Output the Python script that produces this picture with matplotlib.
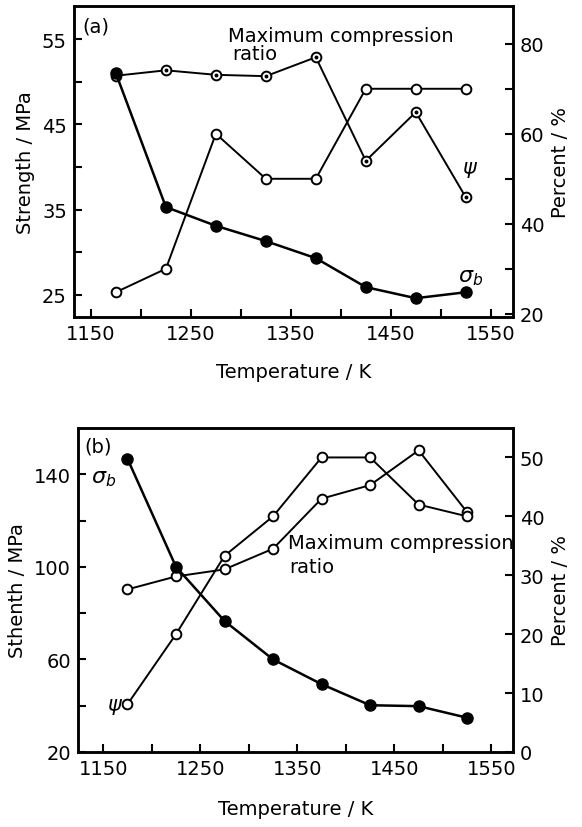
import matplotlib
matplotlib.use("Agg")
import matplotlib.pyplot as plt
import numpy as np

matplotlib.rc('font', family='DejaVu Sans', size=14)

temps = [1175, 1225, 1275, 1325, 1375, 1425, 1475, 1525]

# panel (a)
sigma_a = [51.0, 35.3, 33.1, 31.3, 29.3, 25.9, 24.6, 25.3]
ratio_a = [72.9, 74.1, 73.1, 72.8, 77.0, 54.0, 64.8, 45.9]
psi_a = [24.8, 30.0, 60.0, 50.0, 50.0, 70.0, 70.0, 70.0]

# panel (b)
sigma_b = [146.7, 100.0, 76.6, 60.0, 49.3, 40.2, 39.8, 34.8]
ratio_b = [27.6, 29.8, 31.0, 34.5, 43.0, 45.3, 51.2, 40.7]
psi_b = [8.1, 20.0, 33.3, 40.0, 50.0, 50.0, 42.0, 40.0]

x_ticks = [1150, 1250, 1350, 1450, 1550]
x_minor = [1200, 1300, 1400, 1500]

LW = 1.4
MS = 7
FS = 14


def style_axis(ax):
    for sp in ax.spines.values():
        sp.set_linewidth(1.8)
    ax.tick_params(which='both', direction='in', width=1.5, length=6,
                   labelsize=FS, pad=5)


def open_line(ax, x, y, dotted=False):
    ax.plot(x, y, '-', color='black', lw=LW, marker='o', ms=MS,
            mfc='white', mec='black', mew=1.4)
    if dotted:
        ax.plot(x, y, ls='none', marker='o', ms=1.8, color='black')


def panel(ax, sigma, ratio, psi, dotted, xlim, ylim, ylim2, xpad):
    ax2 = ax.twinx()
    open_line(ax2, temps, ratio, dotted)
    open_line(ax2, temps, psi)
    ax.plot(temps, sigma, '-', color='black', lw=1.8, marker='o', ms=MS + 1,
            mfc='black', mec='black')
    # keep the filled sigma_b points above the open ones
    ax.set_zorder(ax2.get_zorder() + 1)
    ax.patch.set_visible(False)
    ax.set_xlim(*xlim)
    ax.set_ylim(*ylim)
    ax2.set_ylim(*ylim2)
    ax.set_xticks(x_ticks)
    ax.set_xticks(x_minor, minor=True)
    style_axis(ax)
    style_axis(ax2)
    ax.set_xlabel("Temperature / K", fontsize=FS, labelpad=xpad)
    return ax2


fig = plt.figure(figsize=(5.82, 8.28), dpi=100)

# (a)
ax = fig.add_axes([0.127, 0.616, 0.754, 0.3756])
ax2 = panel(ax, sigma_a, ratio_a, psi_a, True, (1133, 1572), (22.4, 58.9),
            (19.3, 88.4), 14)
ax.set_yticks([25, 35, 45, 55])
ax.set_yticks([30, 40, 50], minor=True)
ax2.set_yticks([20, 40, 60, 80])
ax2.set_yticks([30, 50, 70], minor=True)
ax.set_ylabel("Strength / MPa", fontsize=FS, labelpad=5)
ax2.set_ylabel("Percent / %", fontsize=FS, labelpad=5)
ax.text(1141, 56.6, "(a)", fontsize=FS, va='center')
ax.text(1287, 55.4, "Maximum compression", fontsize=FS, va='center')
ax.text(1291, 53.3, "ratio", fontsize=FS, va='center')
ax.text(1521, 39.8, r"$\psi$", fontsize=15, va='center')
ax.text(1517, 27.1, r"$\sigma_b$", fontsize=16, va='center')

# (b)
ax = fig.add_axes([0.134, 0.0906, 0.747, 0.3913])
ax2 = panel(ax, sigma_b, ratio_b, psi_b, False, (1124, 1572), (20, 160),
            (0, 55), 15)
ax.set_yticks([20, 60, 100, 140])
ax.set_yticks([40, 80, 120], minor=True)
ax2.set_yticks([0, 10, 20, 30, 40, 50])
ax.set_ylabel("Sthenth / MPa", fontsize=FS, labelpad=5)
ax2.set_ylabel("Percent / %", fontsize=FS, labelpad=5)
ax.text(1131, 152.4, "(b)", fontsize=FS, va='center')
ax.text(1137, 138.3, r"$\sigma_b$", fontsize=16, va='center')
ax.text(1154, 40.0, r"$\psi$", fontsize=15, va='center')
ax.text(1340, 110.5, "Maximum compression", fontsize=FS, va='center')
ax.text(1342, 100.0, "ratio", fontsize=FS, va='center')

fig.savefig("out.png", dpi=100)
